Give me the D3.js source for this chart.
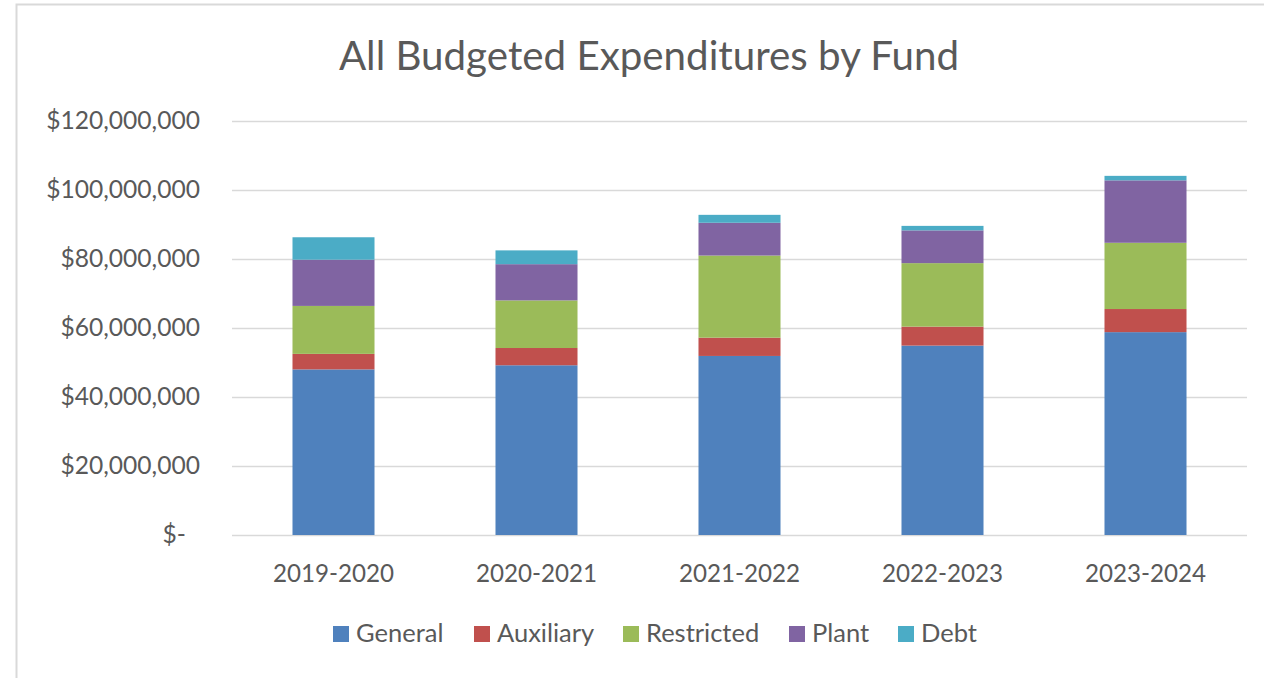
<!DOCTYPE html>
<html>
<head>
<meta charset="utf-8">
<script src="https://cdn.jsdelivr.net/npm/d3@7"></script>
<style>
  html, body { margin: 0; padding: 0; background: #fff; }
  svg { display: block; }
  text { font-family: Lato, "Open Sans", sans-serif; fill: #595959; }
</style>
</head>
<body>
<svg id="chart" width="1264" height="678"></svg>
<script>
// Fiscal years
const years = ["2019-2020", "2020-2021", "2021-2022", "2022-2023", "2023-2024"];
// Budgeted expenditures per fund (USD)
const general    = [48000000, 49200000, 51900000, 54900000, 58800000];
const auxiliary  = [4500000, 5000000, 5300000, 5500000, 6700000];
const restricted = [13900000, 13800000, 23800000, 18400000, 19200000];
const plant      = [13400000, 10500000, 9500000, 9500000, 18100000];
const debt       = [6500000, 4000000, 2300000, 1300000, 1300000];
const funds = ["General", "Auxiliary", "Restricted", "Plant", "Debt"];
const fundColors = ["#4f81bd", "#c0504d", "#9bbb59", "#8064a2", "#4bacc6"];
const yTicks = [0, 20000000, 40000000, 60000000, 80000000, 100000000, 120000000];

const seriesValues = [general, auxiliary, restricted, plant, debt];
const rows = years.map((y, i) => {
  const r = { year: y };
  funds.forEach((f, k) => { r[f] = seriesValues[k][i]; });
  return r;
});

const svg = d3.select("#chart");

// chart frame
svg.append("rect")
  .attr("x", 16.5).attr("y", 4.5)
  .attr("width", 1300).attr("height", 700)
  .attr("fill", "none").attr("stroke", "#d9d9d9").attr("stroke-width", 2);

const x = d3.scaleBand().domain(years).range([232, 1247]).paddingInner(0.596).paddingOuter(0.298);
const y = d3.scaleLinear().domain([0, 120000000]).range([535, 121]);

// gridlines
svg.append("g").selectAll("line").data(yTicks).join("line")
  .attr("x1", 232).attr("x2", 1247)
  .attr("y1", d => Math.round(y(d)) + 0.5).attr("y2", d => Math.round(y(d)) + 0.5)
  .attr("stroke", "#d9d9d9").attr("stroke-width", 1.5);

// y axis labels
const fmt = d3.format(",");
const yAxis = d3.axisLeft(y).tickValues(yTicks).tickSize(0).tickPadding(0)
  .tickFormat(d => d === 0 ? "$-" : "$" + fmt(d));
const gy = svg.append("g").attr("transform", "translate(200,0)").call(yAxis);
gy.select(".domain").remove();
gy.selectAll("text")
  .attr("font-size", 24.6).attr("font-family", null)
  .attr("dx", d => d === 0 ? -14 : 0);

// stacked bars
const stack = d3.stack().keys(funds);
const layers = stack(rows);
svg.append("g").selectAll("g").data(layers).join("g")
  .attr("fill", (d, i) => fundColors[i])
  .selectAll("rect").data(d => d).join("rect")
  .attr("x", d => x(d.data.year))
  .attr("width", x.bandwidth())
  .attr("y", d => y(d[1]))
  .attr("height", d => y(d[0]) - y(d[1]));

// x axis labels
const xAxis = d3.axisBottom(x).tickSize(0).tickPadding(0);
const gx = svg.append("g").attr("transform", "translate(0,582)").call(xAxis);
gx.select(".domain").remove();
gx.selectAll("text").attr("font-size", 24.2).attr("font-family", null).attr("dy", 0);

// title
svg.append("text")
  .attr("x", 649).attr("y", 70)
  .attr("text-anchor", "middle")
  .attr("font-size", 40.3)
  .text("All Budgeted Expenditures by Fund");

// legend
const legendX = [333, 474, 623, 789, 898];
const lg = svg.append("g").selectAll("g").data(funds).join("g")
  .attr("transform", (d, i) => `translate(${legendX[i]},626)`);
lg.append("rect").attr("width", 16).attr("height", 16).attr("fill", (d, i) => fundColors[i]);
lg.append("text").attr("x", 23).attr("y", 16).attr("font-size", 25.5).text(d => d);
</script>
</body>
</html>
